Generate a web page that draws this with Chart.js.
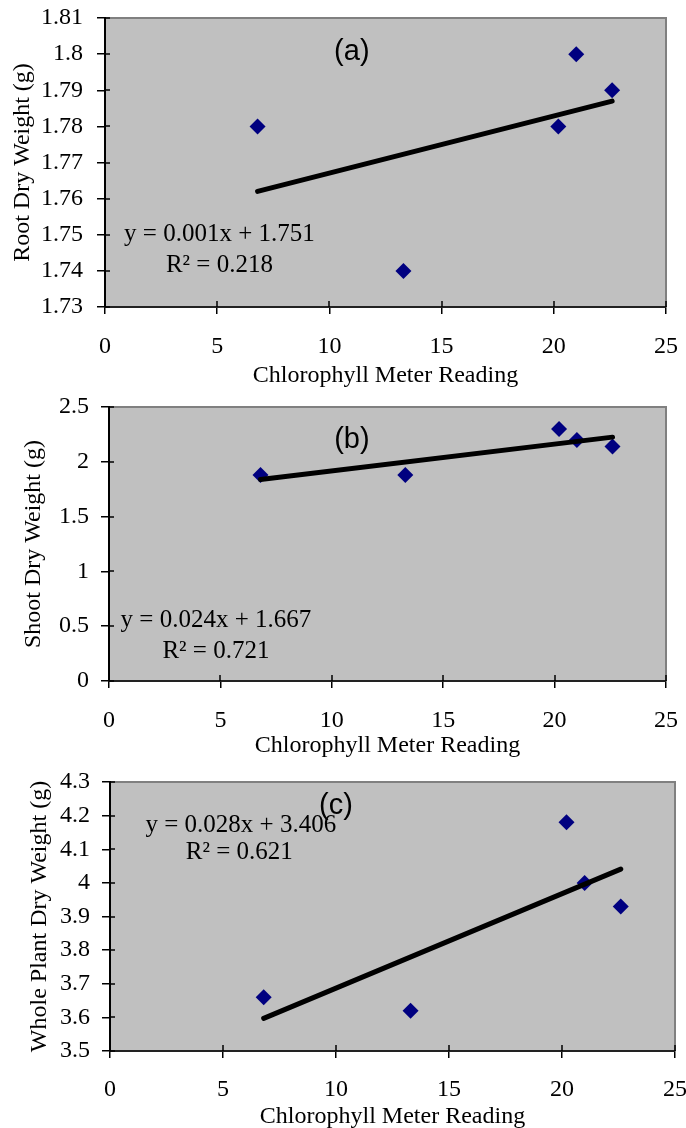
<!DOCTYPE html>
<html>
<head>
<meta charset="utf-8">
<script src="https://cdn.jsdelivr.net/npm/chart.js@4.4.1/dist/chart.umd.min.js"></script>
<style>
body { margin:0; background:#fff; width:686px; height:1128px; overflow:hidden; position:relative; }
canvas { position:absolute; left:0; }
</style>
</head>
<body>
<canvas id="chartA" width="686" height="390" style="top:0px"></canvas>
<canvas id="chartB" width="686" height="370" style="top:390px"></canvas>
<canvas id="chartC" width="686" height="372" style="top:760px"></canvas>
<script>
// data
const chlorophyll = [6.8, 13.3, 20.2, 21.0, 22.6];
const rootDry = [1.78, 1.74, 1.78, 1.80, 1.79];
const shootDry = [1.88, 1.88, 2.30, 2.20, 2.14];
const wholeDry = [3.66, 3.62, 4.18, 4.00, 3.93];

// trend line ends
const trendX = [6.8, 22.6];
const rootTrend = [1.762, 1.787];
const shootTrend = [1.838, 2.225];
const wholeTrend = [3.597, 4.041];

// tick labels
const xTickLabels = ['0', '5', '10', '15', '20', '25'];
const rootTickLabels = ['1.73', '1.74', '1.75', '1.76', '1.77', '1.78', '1.79', '1.8', '1.81'];
const shootTickLabels = ['0', '0.5', '1', '1.5', '2', '2.5'];
const wholeTickLabels = ['3.5', '3.6', '3.7', '3.8', '3.9', '4', '4.1', '4.2', '4.3'];

const serif = 'Liberation Serif, Times New Roman, serif';
const sans = 'Liberation Sans, Arial, sans-serif';

// grey plot area, frame and inner tick halves
const plotBox = {
    id: 'plotBox',
    beforeDraw(chart) {
        const a = chart.chartArea, ctx = chart.ctx;
        ctx.save();
        ctx.fillStyle = '#c0c0c0';
        ctx.fillRect(a.left, a.top, a.right - a.left, a.bottom - a.top);
        ctx.strokeStyle = '#808080';
        ctx.lineWidth = 2;
        ctx.beginPath();
        ctx.moveTo(a.left, a.top);
        ctx.lineTo(a.right, a.top);
        ctx.lineTo(a.right, a.bottom);
        ctx.stroke();
        ctx.restore();
    },
    beforeDatasetsDraw(chart) {
        const a = chart.chartArea, ctx = chart.ctx;
        const sx = chart.scales.x, sy = chart.scales.y;
        ctx.save();
        ctx.strokeStyle = '#000';
        ctx.lineWidth = 1.5;
        ctx.beginPath();
        sx.ticks.forEach(t => {
            const px = Math.round(sx.getPixelForValue(t.value));
            ctx.moveTo(px, a.bottom);
            ctx.lineTo(px, a.bottom - 6);
        });
        sy.ticks.forEach(t => {
            const py = Math.round(sy.getPixelForValue(t.value));
            ctx.moveTo(a.left, py);
            ctx.lineTo(a.left + 5, py);
        });
        ctx.stroke();
        ctx.restore();
    }
};

function notesPlugin(notes) {
    return {
        id: 'notes',
        afterDatasetsDraw(chart) {
            const ctx = chart.ctx;
            ctx.save();
            ctx.fillStyle = '#000';
            ctx.textAlign = 'center';
            ctx.textBaseline = 'middle';
            notes.forEach(n => {
                ctx.font = n.font;
                ctx.fillText(n.text, chart.scales.x.getPixelForValue(n.x), chart.scales.y.getPixelForValue(n.y));
            });
            ctx.restore();
        }
    };
}

function makeChart(id, yVals, yTrend, yLabels, yTitle, lay, notes) {
    const points = chlorophyll.map((x, i) => ({x: x, y: yVals[i]}));
    const trend = trendX.map((x, i) => ({x: x, y: yTrend[i]}));
    const yValues = yLabels.map(parseFloat);
    const xValues = xTickLabels.map(parseFloat);

    const config = {
        type: 'scatter',
        data: {
            datasets: [{
                data: trend,
                showLine: true,
                borderColor: '#000',
                borderWidth: 5,
                borderCapStyle: 'round',
                pointRadius: 0
            }, {
                data: points,
                pointStyle: 'rectRot',
                pointRadius: 8,
                backgroundColor: '#000080',
                borderColor: '#000080',
                borderWidth: 0
            }]
        },
        options: {
            responsive: false,
            animation: false,
            devicePixelRatio: 1,
            layout: { padding: { top: lay.top, right: lay.right, left: 0, bottom: 0 } },
            plugins: { legend: { display: false }, tooltip: { enabled: false } },
            scales: {
                x: {
                    type: 'linear',
                    min: 0,
                    max: 25,
                    afterBuildTicks: s => { s.ticks = xValues.map(v => ({value: v})); },
                    afterFit: s => { s.height = lay.xHeight; s.paddingLeft = 0; s.paddingRight = 0; },
                    ticks: {
                        callback: (v, i) => xTickLabels[i],
                        font: { family: serif, size: 24 },
                        color: '#000',
                        padding: lay.xPad,
                        maxRotation: 0,
                        autoSkip: false
                    },
                    grid: { drawOnChartArea: false, tickLength: 7, color: '#000', lineWidth: 1.5 },
                    border: { color: '#222', width: 2 },
                    title: {
                        display: true,
                        text: 'Chlorophyll Meter Reading',
                        font: { family: serif, size: 24 },
                        color: '#000',
                        padding: { top: 0, bottom: lay.xTitlePad }
                    }
                },
                y: {
                    type: 'linear',
                    min: yValues[0],
                    max: yValues[yValues.length - 1],
                    afterBuildTicks: s => { s.ticks = yValues.map(v => ({value: v})); },
                    afterFit: s => { s.width = lay.yWidth; s.paddingTop = 0; s.paddingBottom = 0; },
                    ticks: {
                        callback: (v, i) => yLabels[i],
                        font: { family: serif, size: 24 },
                        color: '#000',
                        padding: lay.yPad,
                        autoSkip: false
                    },
                    grid: { drawOnChartArea: false, tickLength: 8, color: '#000', lineWidth: 1.5 },
                    border: { color: '#000', width: 2 },
                    title: {
                        display: true,
                        text: yTitle,
                        font: { family: serif, size: 24 },
                        color: '#000',
                        padding: { top: lay.yTitlePad, bottom: 0 }
                    }
                }
            }
        },
        plugins: [plotBox, notesPlugin(notes)]
    };
    return new Chart(document.getElementById(id), config);
}

const eqFont = '25px ' + serif;
const tagFont = '29px ' + sans;

const chartA = makeChart('chartA', rootDry, rootTrend, rootTickLabels, 'Root Dry Weight (g)',
    { top: 18, right: 20, yWidth: 105, xHeight: 83, xPad: 18, xTitlePad: 0, yPad: 14, yTitlePad: 8 },
    [
        { text: '(a)', x: 11.0, y: 1.8006, font: tagFont },
        { text: 'y = 0.001x + 1.751', x: 5.1, y: 1.750, font: eqFont },
        { text: 'R\u00b2 = 0.218', x: 5.1, y: 1.7416, font: eqFont }
    ]);

const chartB = makeChart('chartB', shootDry, shootTrend, shootTickLabels, 'Shoot Dry Weight (g)',
    { top: 17, right: 20, yWidth: 109, xHeight: 79, xPad: 18, xTitlePad: 0, yPad: 12, yTitlePad: 19 },
    [
        { text: '(b)', x: 10.9, y: 2.2, font: tagFont },
        { text: 'y = 0.024x + 1.667', x: 4.8, y: 0.555, font: eqFont },
        { text: 'R\u00b2 = 0.721', x: 4.8, y: 0.272, font: eqFont }
    ]);

const chartC = makeChart('chartC', wholeDry, wholeTrend, wholeTickLabels, 'Whole Plant Dry Weight (g)',
    { top: 22, right: 11, yWidth: 110, xHeight: 81, xPad: 17, xTitlePad: 1, yPad: 12, yTitlePad: 25 },
    [
        { text: '(c)', x: 10.0, y: 4.229, font: tagFont },
        { text: 'y = 0.028x + 3.406', x: 5.79, y: 4.172, font: eqFont },
        { text: 'R\u00b2 = 0.621', x: 5.72, y: 4.092, font: eqFont }
    ]);
</script>
</body>
</html>
